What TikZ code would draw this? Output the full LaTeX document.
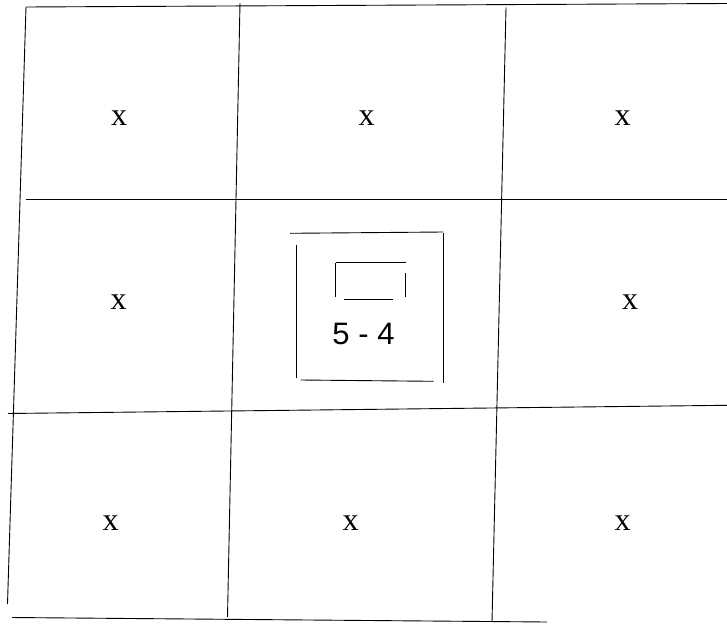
\documentclass[tikz,border=0pt]{standalone}
\usepackage{fontspec}
\setmainfont{Liberation Serif}
\newfontfamily\sansfnt{Liberation Sans}
\begin{document}
\begin{tikzpicture}[x=1pt,y=-1pt,
  gridline/.style={draw=black,line width=0.9pt},
  cellmark/.style={inner sep=0pt,font=\fontsize{32}{32}\selectfont},
  numlabel/.style={inner sep=0pt,font=\sansfnt\fontsize{31}{31}\selectfont}]
\useasboundingbox (0,0) rectangle (727,623);
% outer grid
\draw[gridline] (26,7) -- (727,3.5);
\draw[gridline] (26,7) -- (7.5,604);
\draw[gridline] (240,3) -- (227.5,617);
\draw[gridline] (506,7.5) -- (492,622);
\draw[gridline] (26,199.3) -- (727,199.3);
\draw[gridline] (8,413.5) -- (727,405.3);
\draw[gridline] (12,617.5) -- (547,622);
% inner square
\draw[gridline] (290,233.3) -- (443.3,232);
\draw[gridline] (443.3,233.3) -- (443.3,383.3);
\draw[gridline] (296,245) -- (296,378.3);
\draw[gridline] (300.7,380) -- (433.3,381.3);
% small rectangle
\draw[gridline] (336,262.7) -- (406,262.7);
\draw[gridline] (335.7,262.7) -- (335.7,297.3);
\draw[gridline] (405.7,273.3) -- (405.7,297.3);
\draw[gridline] (344,299.3) -- (393.3,299.3);
% labels
\node[cellmark] (c11) at (119,118.5) {x};
\node[cellmark] (c12) at (366.5,118.5) {x};
\node[cellmark] (c13) at (622.5,118.5) {x};
\node[cellmark] (c21) at (118.5,302.5) {x};
\node[cellmark] (c23) at (630,302.5) {x};
\node[cellmark] (c31) at (110.5,523) {x};
\node[cellmark] (c32) at (350.5,523) {x};
\node[cellmark] (c33) at (622.5,523) {x};
\node[numlabel] (mid) at (363.5,334) {5 - 4};
\end{tikzpicture}
\end{document}
